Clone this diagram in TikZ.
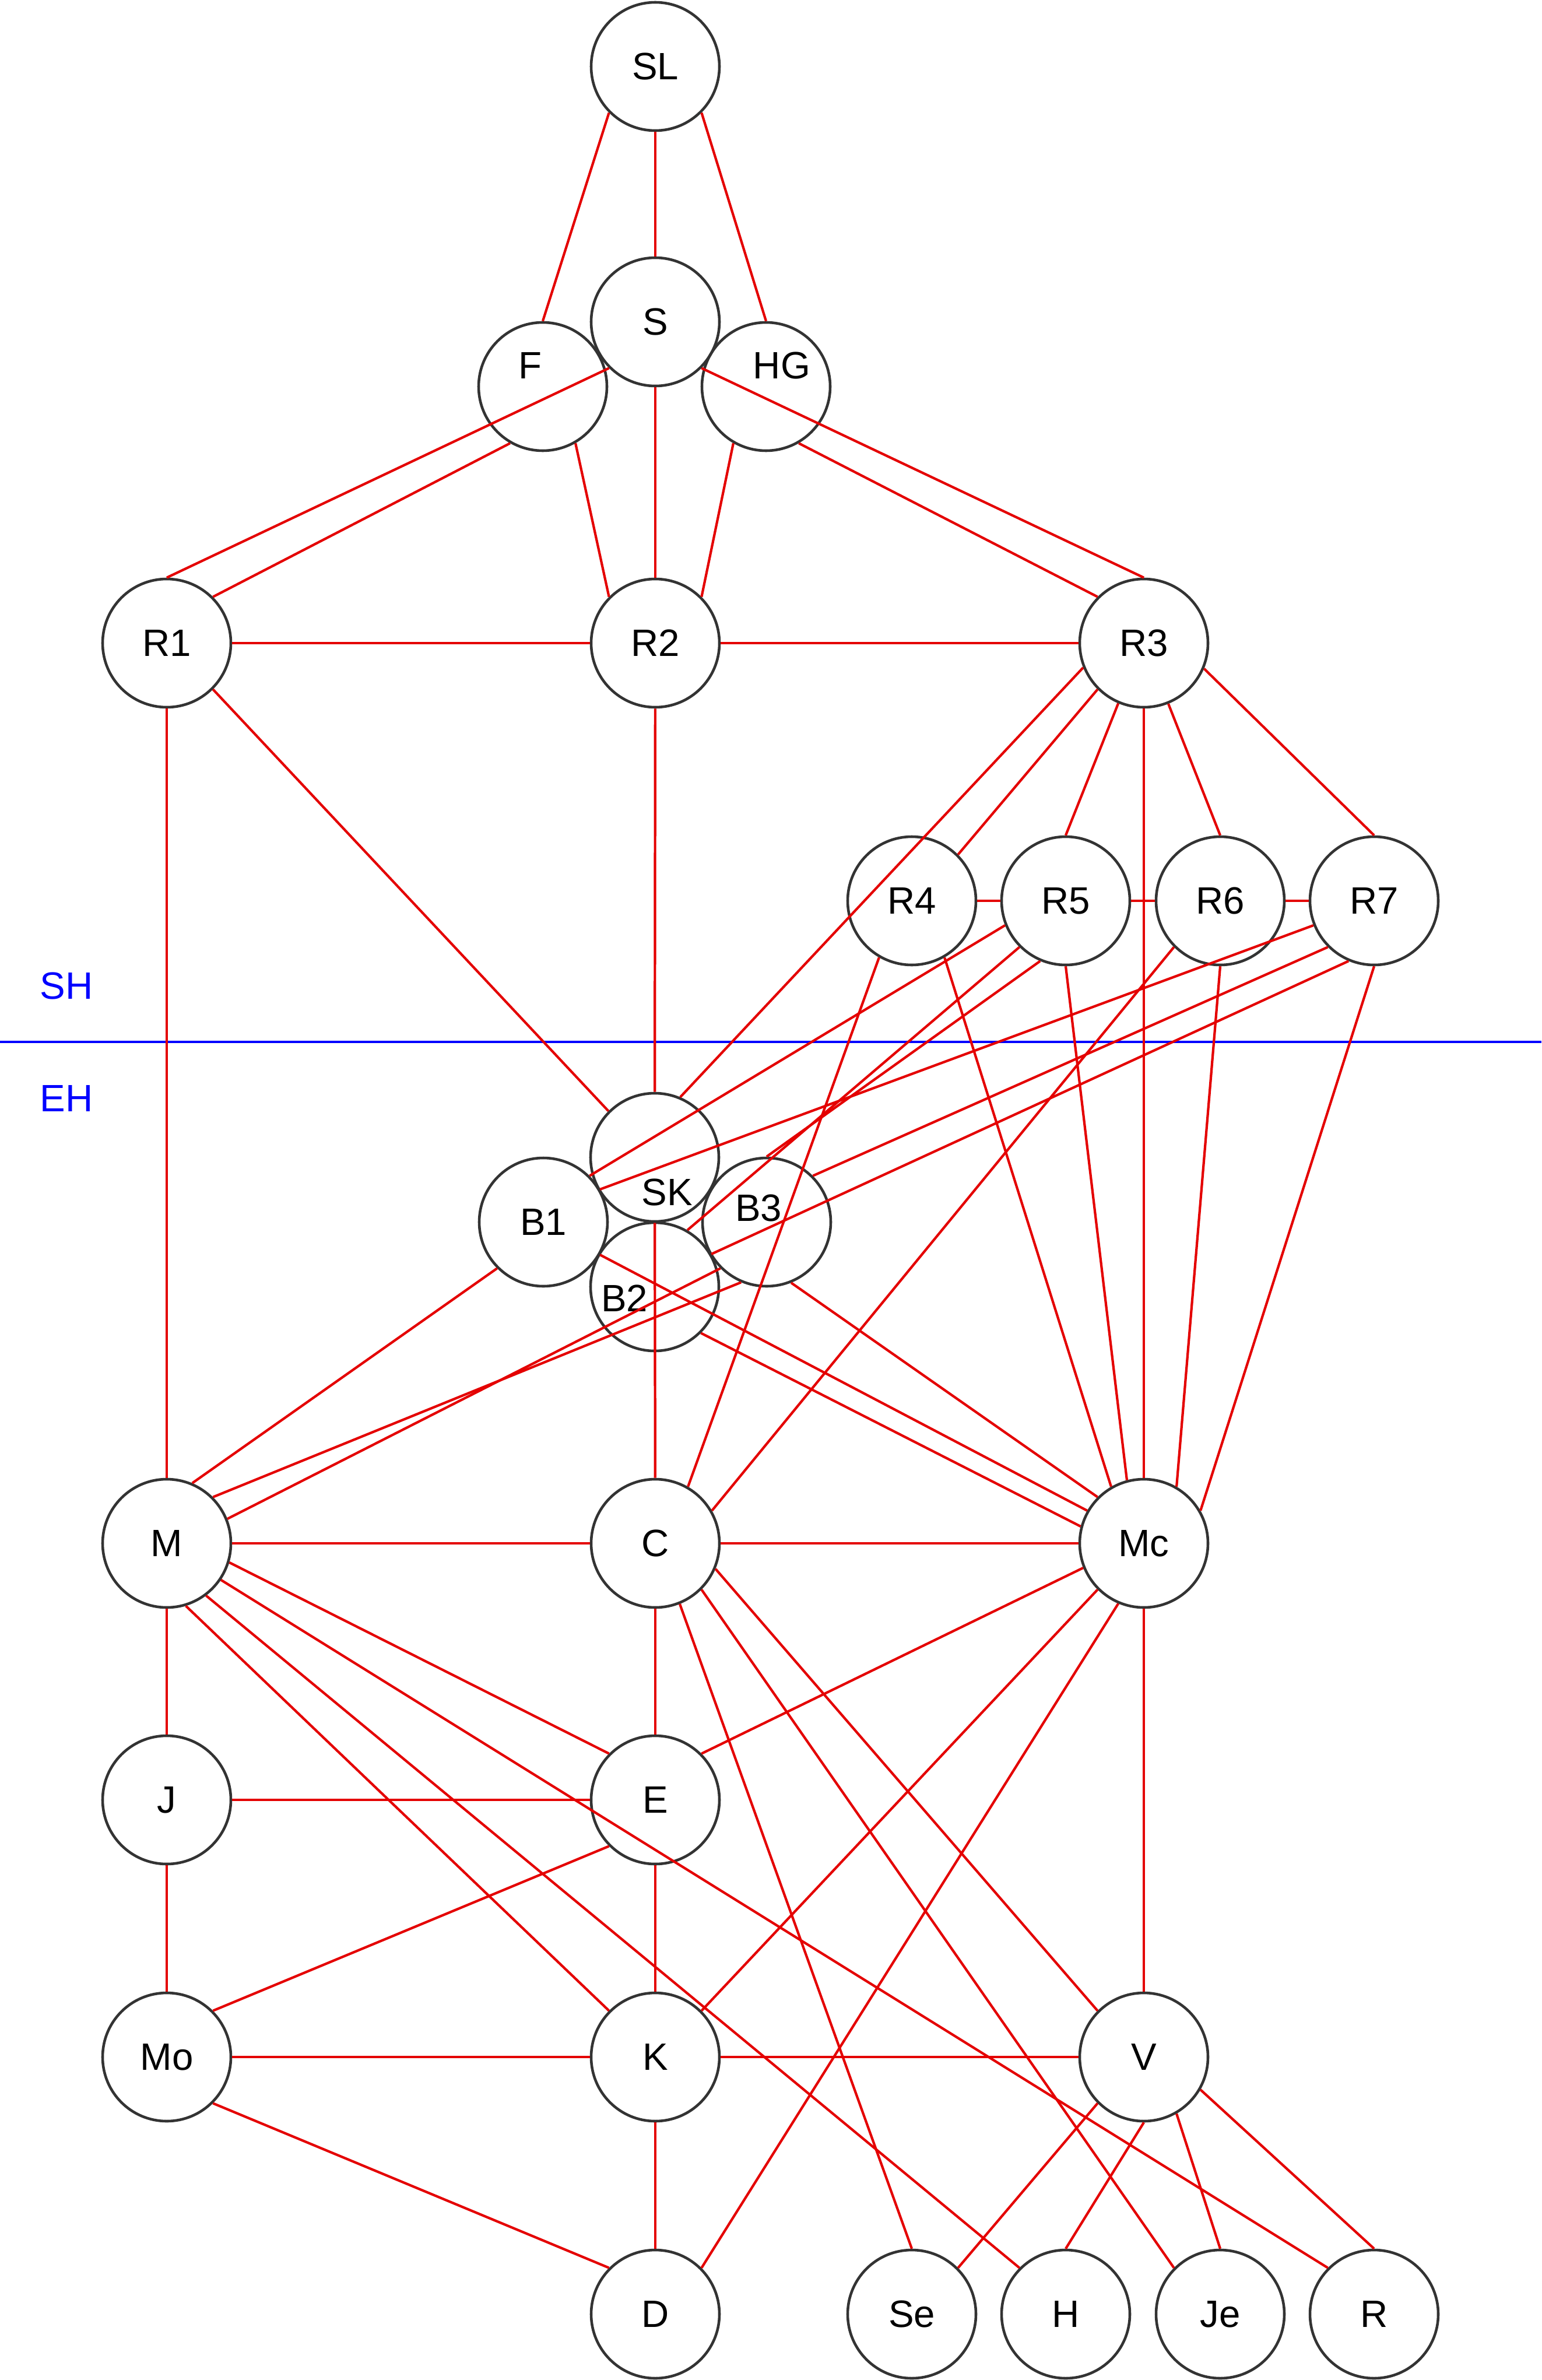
\documentclass[tikz,border=0pt]{standalone}
\usepackage{fontspec}
\setmainfont{Liberation Sans}
\definecolor{tiered}{RGB}{228,0,0}
\definecolor{ringgray}{RGB}{51,51,51}
\begin{document}
\begin{tikzpicture}[font=\fontsize{18.6}{22}\selectfont,
  ring/.style={circle,draw=ringgray,line width=1.3pt,minimum size=2.2cm,inner sep=0pt},
  tie/.style={draw=tiered,line width=1.2pt},
  zone/.style={text=blue}]
\useasboundingbox (0,0) rectangle (26.44,-40.82);

\node[ring] (SL) at (11.24,-1.14) {SL};
\node[ring] (S) at ([shift={+(0,-4.38)}]SL) {S};
\node[ring] (F) at (9.31,-6.63) {};
\node (Ft) at ([shift={+(-0.22,0.36)}]F) {F};
\node[ring] (HG) at (13.14,-6.63) {};
\node (HGt) at ([shift={+(0.27,0.36)}]HG) {HG};

\node[ring] (R1) at (2.86,-11.03) {R1};
\node[ring] (R2) at ([shift={+(8.38,0)}]R1) {R2};
\node[ring] (R3) at ([shift={+(8.38,0)}]R2) {R3};
\node[ring] (R4) at (15.64,-15.45) {R4};
\node[ring] (R5) at ([shift={+(2.64,0)}]R4) {R5};
\node[ring] (R6) at ([shift={+(2.65,0)}]R5) {R6};
\node[ring] (R7) at ([shift={+(2.64,0)}]R6) {R7};

\node[ring] (SK) at (11.23,-19.85) {};
\node (SKt) at ([shift={+(0.21,-0.60)}]SK) {SK};
\node[ring] (B1) at (9.32,-20.96) {B1};
\node[ring] (B3) at (13.15,-20.96) {};
\node (B3t) at ([shift={+(-0.14,0.24)}]B3) {B3};
\node[ring] (B2) at (11.23,-22.07) {};
\node (B2t) at ([shift={+(-0.52,-0.20)}]B2) {B2};

\node[ring] (M) at (2.86,-26.47) {M};
\node[ring] (C) at ([shift={+(8.38,0)}]M) {C};
\node[ring] (Mc) at ([shift={+(8.38,0)}]C) {Mc};
\node[ring] (J) at ([shift={+(0,-4.40)}]M) {J};
\node[ring] (E) at ([shift={+(8.38,0)}]J) {E};
\node[ring] (Mo) at ([shift={+(0,-4.41)}]J) {Mo};
\node[ring] (K) at ([shift={+(8.38,0)}]Mo) {K};
\node[ring] (V) at ([shift={+(8.38,0)}]K) {V};
\node[ring] (D) at ([shift={+(0,-4.41)}]K) {D};
\node[ring] (Se) at (15.64,-39.69) {Se};
\node[ring] (H) at ([shift={+(2.64,0)}]Se) {H};
\node[ring] (Je) at ([shift={+(2.65,0)}]H) {Je};
\node[ring] (R) at ([shift={+(2.64,0)}]Je) {R};

\node[zone] (SH) at (1.14,-16.91) {SH};
\node[zone] (EH) at (1.14,-18.84) {EH};
\coordinate (HL) at (0,-17.87);
\coordinate (HR) at (26.44,-17.87);
\draw[blue,line width=1.1pt] (HL)--(HR);

\draw[tie] (SL.270)--(S.90);
\draw[tie] (SL.225)--(F.90);
\draw[tie] (SL.315)--(HG.90);
\draw[tie] (S.270)--(R2.90);
\draw[tie] (S.225)--(R1.90);
\draw[tie] (F.240)--(R1.45);
\draw[tie] (F.300)--(R2.135);
\draw[tie] (HG.240)--(R2.45);
\draw[tie] (S.315)--(R3.90);
\draw[tie] (HG.300)--(R3.135);

\draw[tie] (R1)--(R2);
\draw[tie] (R2)--(R3);
\draw[tie] (R1)--(M);
\draw[tie] (R1.315)--(SK.135);
\draw[tie] (R2)--(SK);
\draw[tie] (R3.202.5)--(SK.67.5);
\draw[tie] (R3.225)--(R4.45);
\draw[tie] (R3.247.5)--(R5.90);
\draw[tie] (R3)--(Mc);
\draw[tie] (R3.292.5)--(R6.90);
\draw[tie] (R3.337.5)--(R7.90);

\draw[tie] (R4)--(R5);
\draw[tie] (R5)--(R6);
\draw[tie] (R6)--(R7);
\draw[tie] (R4.240)--(C.60);
\draw[tie] (R4.300)--(Mc.120);
\draw[tie] (R5.202.5)--(B1.45);
\draw[tie] (R5.225)--(B2.60);
\draw[tie] (R5.247.5)--(B3.90);
\draw[tie] (R5.270)--(Mc.105);
\draw[tie] (R6.225)--(C.30);
\draw[tie] (R6.270)--(Mc.60);
\draw[tie] (R7.202.5)--(B1.30);
\draw[tie] (R7.225)--(B3.45);
\draw[tie] (R7.247.5)--(B2.30);
\draw[tie] (R7.270)--(Mc.30);

\draw[tie] (SK)--(C);
\draw[tie] (B1.225)--(M.67.5);
\draw[tie] (B1.330)--(Mc.150);
\draw[tie] (B2.315)--(Mc.165);
\draw[tie] (B3.292.5)--(Mc.135);
\draw[tie] (M.45)--(B3.247.5);
\draw[tie] (M.22.5)--(B3.225);

\draw[tie] (M)--(C);
\draw[tie] (C)--(Mc);
\draw[tie] (M)--(J);
\draw[tie] (M.343)--(E.135);
\draw[tie] (M.326)--(R.135);
\draw[tie] (M.307)--(H.135);
\draw[tie] (M.287)--(K.135);
\draw[tie] (C)--(E);
\draw[tie] (C.337.5)--(V.135);
\draw[tie] (C.315)--(Je.135);
\draw[tie] (C.292.5)--(Se.90);
\draw[tie] (Mc.202.5)--(E.45);
\draw[tie] (Mc.225)--(K.45);
\draw[tie] (Mc.247.5)--(D.45);
\draw[tie] (Mc)--(V);

\draw[tie] (J)--(E);
\draw[tie] (J)--(Mo);
\draw[tie] (E.225)--(Mo.45);
\draw[tie] (E)--(K);
\draw[tie] (Mo)--(K);
\draw[tie] (Mo.315)--(D.135);
\draw[tie] (K)--(V);
\draw[tie] (K)--(D);
\draw[tie] (V.225)--(Se.45);
\draw[tie] (V.270)--(H.90);
\draw[tie] (V.300)--(Je.90);
\draw[tie] (V.330)--(R.90);
\end{tikzpicture}
\end{document}
